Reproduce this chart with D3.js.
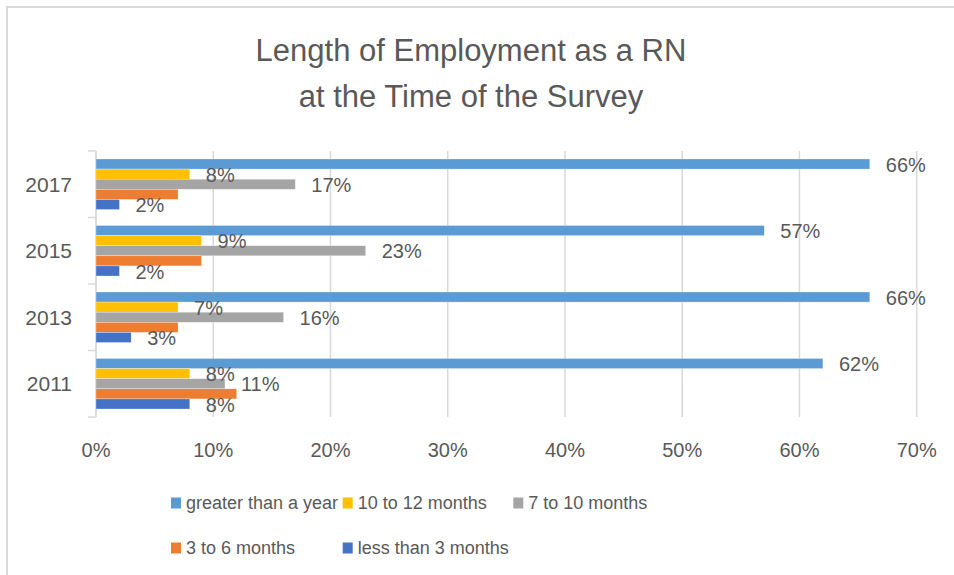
<!DOCTYPE html>
<html>
<head>
<meta charset="utf-8">
<script src="https://cdn.jsdelivr.net/npm/d3@7"></script>
<style>
  body { margin: 0; background: #fff; }
  svg text { font-family: "Liberation Sans", Arial, sans-serif; fill: #595959; }
</style>
</head>
<body>
<svg id="chart" width="954" height="575"></svg>
<script>
// chart data
var years = ['2017', '2015', '2013', '2011'];
var seriesNames = ['greater than a year', '10 to 12 months', '7 to 10 months', '3 to 6 months', 'less than 3 months'];
var seriesColors = ['#5B9BD5', '#FFC000', '#A5A5A5', '#ED7D31', '#4472C4'];
var greaterThanYear = [66, 57, 66, 62];
var tenTo12 = [8, 9, 7, 8];
var sevenTo10 = [17, 23, 16, 11];
var threeTo6 = [7, 9, 7, 12];
var lessThan3 = [2, 2, 3, 8];
var showLabel = [true, true, true, false, true]; // the 3 to 6 months series has no labels
var xTicks = [0, 10, 20, 30, 40, 50, 60, 70];

var values = [greaterThanYear, tenTo12, sevenTo10, threeTo6, lessThan3];

var svg = d3.select('#chart');

// chart border (light gray frame, cut off at right/bottom)
svg.append('rect')
  .attr('x', 7).attr('y', 7)
  .attr('width', 1000).attr('height', 1000)
  .style('fill', 'none')
  .style('stroke', '#d9d9d9')
  .style('stroke-width', 2);

// title
var title = svg.append('text')
  .attr('text-anchor', 'middle')
  .style('font-size', '31px');
title.append('tspan').attr('x', 471).attr('y', 61).text('Length of Employment as a RN');
title.append('tspan').attr('x', 471).attr('y', 107).text('at the Time of the Survey');

var x = d3.scaleLinear().domain([0, 70]).range([96, 916.7]);
var y = d3.scaleBand().domain(years).range([151, 417]).paddingInner(0.24).paddingOuter(0.12);
var ySub = d3.scaleBand().domain(d3.range(seriesNames.length)).range([0, y.bandwidth()]);

// gridlines
svg.append('g')
  .selectAll('line')
  .data(xTicks)
  .enter()
  .append('line')
  .attr('x1', function(d) { return x(d); })
  .attr('x2', function(d) { return x(d); })
  .attr('y1', 151)
  .attr('y2', 417)
  .style('stroke', '#d9d9d9')
  .style('stroke-width', 1.5);

// x axis labels
svg.append('g')
  .selectAll('text')
  .data(xTicks)
  .enter()
  .append('text')
  .attr('x', function(d) { return x(d); })
  .attr('y', 457)
  .attr('text-anchor', 'middle')
  .style('font-size', '20px')
  .text(function(d) { return d + '%'; });

// y axis line + ticks at category boundaries
var yAxis = svg.append('g');
yAxis.append('line')
  .attr('x1', 96).attr('x2', 96)
  .attr('y1', 151).attr('y2', 417)
  .style('stroke', '#d9d9d9').style('stroke-width', 1.5);
var bounds = years.map(function(d) { return y(d) - y.step() * y.paddingInner() / 2; });
bounds.push(417);
yAxis.selectAll('.tick')
  .data(bounds)
  .enter()
  .append('line')
  .attr('x1', 88).attr('x2', 96)
  .attr('y1', function(d) { return d; })
  .attr('y2', function(d) { return d; })
  .style('stroke', '#d9d9d9').style('stroke-width', 1.5);
yAxis.selectAll('text')
  .data(years)
  .enter()
  .append('text')
  .attr('x', 72)
  .attr('y', function(d) { return y(d) + y.bandwidth() / 2; })
  .attr('dy', '0.35em')
  .attr('text-anchor', 'end')
  .style('font-size', '21px')
  .text(function(d) { return d; });

// bars
var rows = [];
years.forEach(function(yr, i) {
  seriesNames.forEach(function(s, j) {
    rows.push({ year: yr, s: j, v: values[j][i] });
  });
});

var bars = svg.append('g');
bars.selectAll('rect')
  .data(rows)
  .enter()
  .append('rect')
  .attr('x', x(0))
  .attr('y', function(d) { return y(d.year) + ySub(d.s); })
  .attr('width', function(d) { return x(d.v) - x(0); })
  .attr('height', ySub.bandwidth())
  .style('fill', function(d) { return seriesColors[d.s]; })
  .style('stroke', '#ffffff')
  .style('stroke-width', 0.5)
  .style('stroke-opacity', 0.6);

// data labels
svg.append('g')
  .selectAll('text')
  .data(rows.filter(function(d) { return showLabel[d.s]; }))
  .enter()
  .append('text')
  .attr('x', function(d) { return x(d.v) + 16; })
  .attr('y', function(d) { return y(d.year) + ySub(d.s) + ySub.bandwidth() / 2; })
  .attr('dy', '0.38em')
  .style('font-size', '20px')
  .text(function(d) { return d.v + '%'; });

// legend
var legendPos = [[171, 503], [342.7, 503], [513.3, 503], [171, 548], [342.7, 548]];
var legend = svg.append('g')
  .selectAll('g')
  .data(seriesNames)
  .enter()
  .append('g')
  .attr('transform', function(d, i) { return 'translate(' + legendPos[i][0] + ',' + legendPos[i][1] + ')'; });
legend.append('rect')
  .attr('x', 0).attr('y', -5.5)
  .attr('width', 10).attr('height', 11)
  .style('fill', function(d, i) { return seriesColors[i]; });
legend.append('text')
  .attr('x', 15)
  .attr('dy', '0.35em')
  .style('font-size', '18px')
  .text(function(d) { return d; });
</script>
</body>
</html>
